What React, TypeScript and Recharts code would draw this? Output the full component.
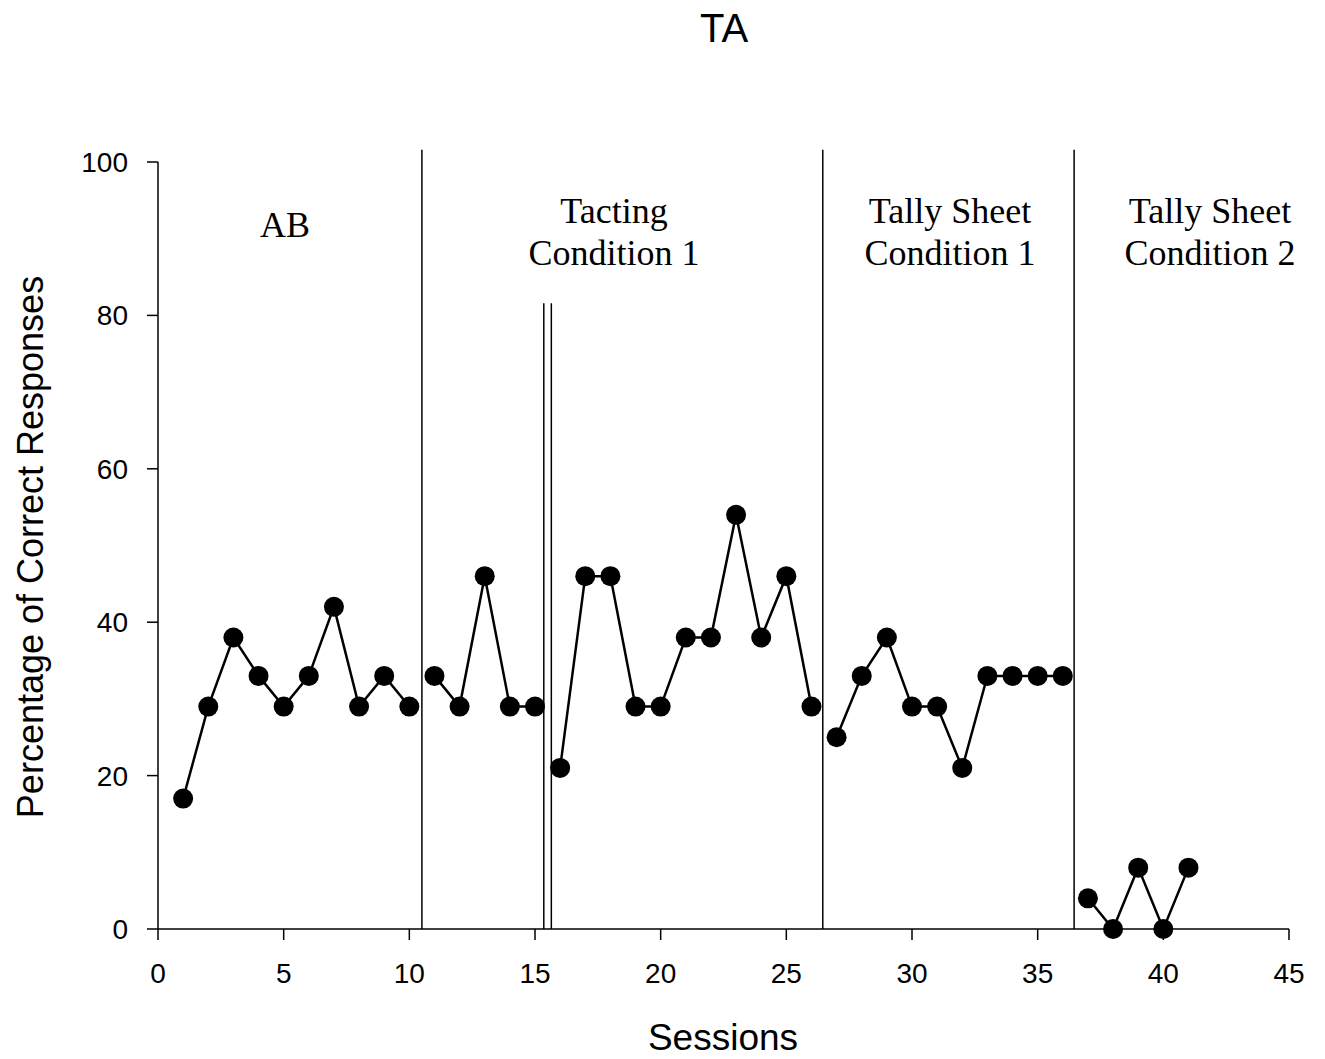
import { LineChart, Line, XAxis, YAxis, ReferenceLine } from "recharts";

// session where each phase starts
const phaseStarts = [1, 11, 16, 27, 37];

// percentage of correct responses per phase
const abValues = [17, 29, 38, 33, 29, 33, 42, 29, 33, 29];
const tactingAValues = [33, 29, 46, 29, 29];
const tactingBValues = [21, 46, 46, 29, 29, 38, 38, 54, 38, 46, 29];
const tallyOneValues = [25, 33, 38, 29, 29, 21, 33, 33, 33, 33];
const tallyTwoValues = [4, 0, 8, 0, 8];

const xTicks = [0, 5, 10, 15, 20, 25, 30, 35, 40, 45];
const yTicks = [0, 20, 40, 60, 80, 100];

// phase change lines (x in sessions) and how high they reach
const phaseLines = [10.5, 26.45, 36.45];
const phaseLineTop = 101.6;
const breakLines = [15.35, 15.65];
const breakLineTop = 81.6;

const phaseSeries = [abValues, tactingAValues, tactingBValues, tallyOneValues, tallyTwoValues].map(
    (vals, i) => vals.map((v, j) => ({ session: phaseStarts[i] + j, pct: v }))
);

const SANS = "'Liberation Sans', Arial, Helvetica, sans-serif";
const SERIF = "'Liberation Serif', 'Times New Roman', serif";

const W = 1325;
const H = 1059;

const App = () => {
    return (
        <div style={{ position: "absolute", left: 0, top: 0, width: W, height: H, background: "#fff" }}>
            <LineChart
                width={W}
                height={H}
                margin={{ top: 162, right: 36, left: 0, bottom: 70 }}
            >
                <XAxis
                    dataKey="session"
                    type="number"
                    domain={[0, 45]}
                    ticks={xTicks}
                    allowDataOverflow={false}
                    height={60}
                    tickSize={11}
                    tickMargin={23}
                    axisLine={{ stroke: "#000", strokeWidth: 1.5 }}
                    tickLine={{ stroke: "#000", strokeWidth: 1.5 }}
                    tick={{ fill: "#000", fontSize: 28, fontFamily: SANS }}
                />
                <YAxis
                    type="number"
                    domain={[0, 100]}
                    ticks={yTicks}
                    width={158}
                    tickSize={11}
                    tickMargin={19}
                    axisLine={{ stroke: "#000", strokeWidth: 1.5 }}
                    tickLine={{ stroke: "#000", strokeWidth: 1.5 }}
                    tick={{ fill: "#000", fontSize: 28, fontFamily: SANS }}
                />
                {phaseLines.map((x) => (
                    <ReferenceLine
                        key={"p" + x}
                        segment={[{ x, y: 0 }, { x, y: phaseLineTop }]}
                        ifOverflow="visible"
                        stroke="#000"
                        strokeWidth={1.5}
                    />
                ))}
                {breakLines.map((x) => (
                    <ReferenceLine
                        key={"b" + x}
                        segment={[{ x, y: 0 }, { x, y: breakLineTop }]}
                        ifOverflow="visible"
                        stroke="#000"
                        strokeWidth={1.5}
                    />
                ))}
                {phaseSeries.map((d, i) => (
                    <Line
                        key={i}
                        data={d}
                        dataKey="pct"
                        type="linear"
                        stroke="#000"
                        strokeWidth={2.5}
                        dot={{ r: 10, fill: "#000", stroke: "none" }}
                        activeDot={false}
                        isAnimationActive={false}
                    />
                ))}
            </LineChart>
            <svg
                width={W}
                height={H}
                style={{ position: "absolute", left: 0, top: 0, pointerEvents: "none" }}
            >
                <text x={724} y={42} textAnchor="middle" fontSize={40} fontFamily={SANS} fill="#000">TA</text>
                <text x={723} y={1050} textAnchor="middle" fontSize={37} fontFamily={SANS} fill="#000">Sessions</text>
                <text
                    transform="translate(43,547) rotate(-90)"
                    textAnchor="middle"
                    fontSize={36}
                    fontFamily={SANS}
                    fill="#000"
                >
                    Percentage of Correct Responses
                </text>
                <g fontFamily={SERIF} fontSize={36} fill="#000" textAnchor="middle">
                    <text x={285} y={237}>AB</text>
                    <text x={614} y={223}>Tacting</text>
                    <text x={614} y={265}>Condition 1</text>
                    <text x={950} y={223}>Tally Sheet</text>
                    <text x={950} y={265}>Condition 1</text>
                    <text x={1210} y={223}>Tally Sheet</text>
                    <text x={1210} y={265}>Condition 2</text>
                </g>
            </svg>
        </div>
    );
};

export default App;
